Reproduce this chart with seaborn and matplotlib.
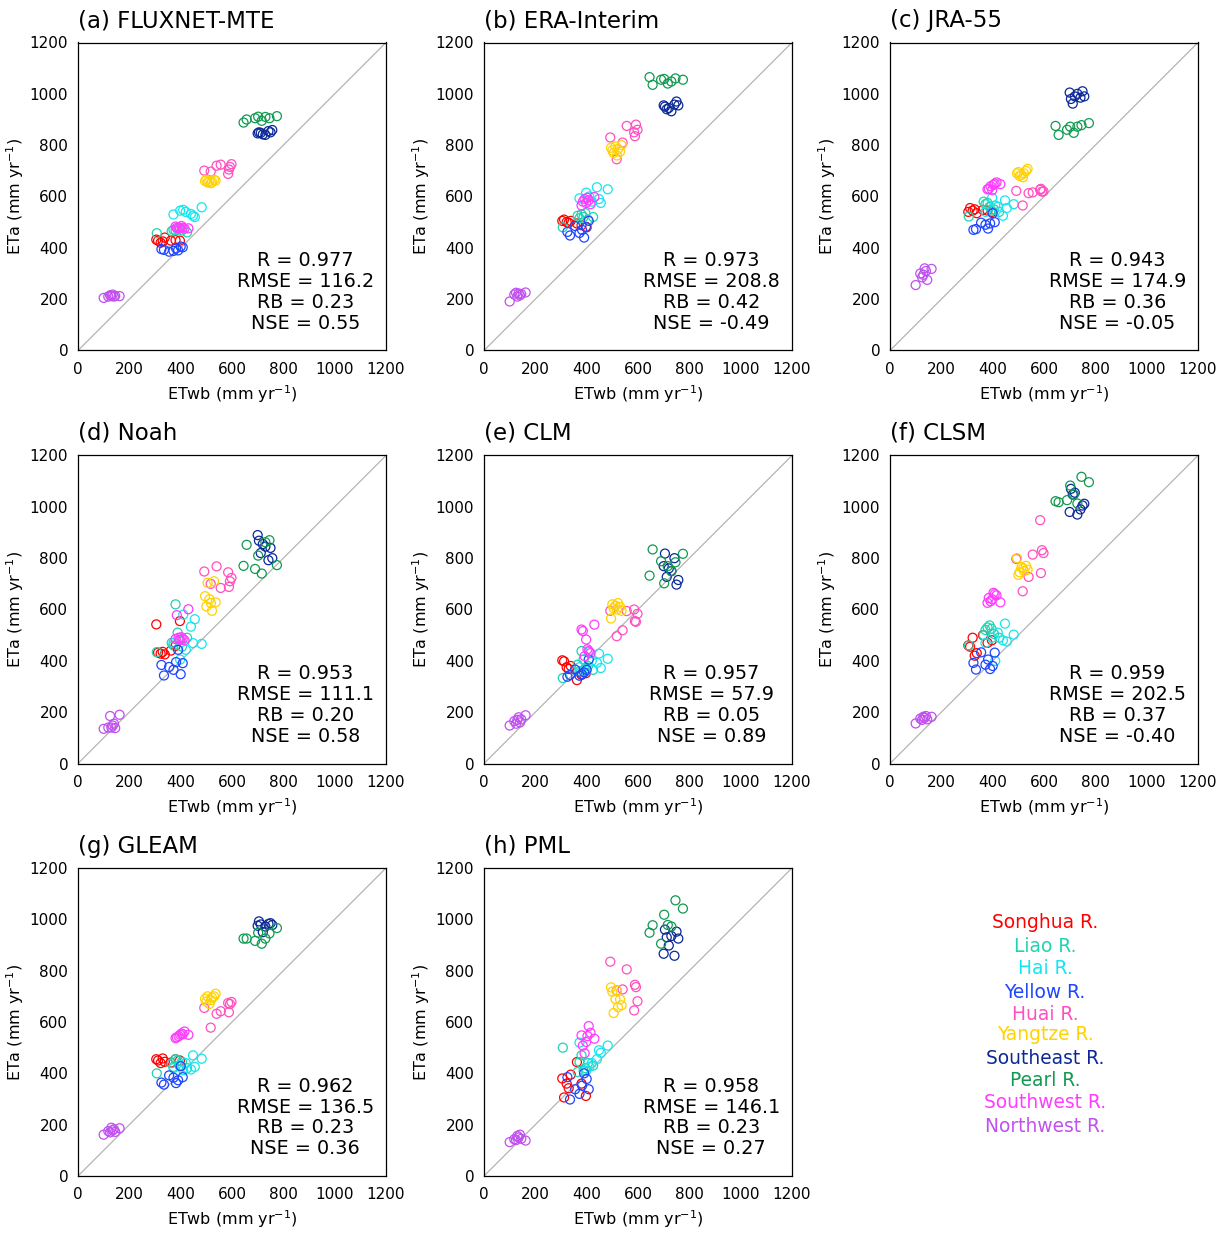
import matplotlib
matplotlib.use('Agg')
import numpy as np
import pandas as pd
import seaborn as sns
import matplotlib.pyplot as plt

# --------------------------------------------------------------------
# Data: ETwb is the same for every product, ETa differs per product

regions = ['Songhua R.', 'Liao R.', 'Hai R.', 'Yellow R.', 'Huai R.',
           'Yangtze R.', 'Southeast R.', 'Pearl R.', 'Southwest R.', 'Northwest R.']
colors = ['#ff0000', '#1ed4b0', '#14e6f0', '#1e46ff', '#ff50c0',
          '#ffd200', '#0a2896', '#109a50', '#ff3cff', '#c050f0']

etwb = {
    'Songhua R.':   [305, 312, 322, 330, 338, 362, 380, 397],
    'Liao R.':      [307, 365, 372, 380, 388, 395, 405, 425],
    'Hai R.':       [372, 398, 410, 420, 440, 448, 455, 482],
    'Yellow R.':    [325, 335, 355, 372, 382, 390, 400, 408],
    'Huai R.':      [492, 517, 540, 556, 585, 588, 592, 598],
    'Yangtze R.':   [495, 500, 505, 512, 518, 522, 530, 536],
    'Southeast R.': [700, 705, 712, 720, 730, 742, 750, 757],
    'Pearl R.':     [645, 657, 690, 702, 716, 730, 746, 775],
    'Southwest R.': [380, 385, 392, 398, 403, 408, 415, 430],
    'Northwest R.': [100, 118, 125, 130, 135, 140, 145, 162],
}

eta_fluxnet = {
    'Songhua R.':   [432, 428, 420, 425, 440, 428, 430, 428],
    'Liao R.':      [457, 465, 470, 468, 472, 475, 468, 460],
    'Hai R.':       [530, 545, 548, 540, 532, 525, 520, 558],
    'Yellow R.':    [395, 392, 385, 388, 398, 390, 405, 402],
    'Huai R.':      [701, 697, 720, 724, 688, 705, 715, 726],
    'Yangtze R.':   [660, 665, 655, 660, 652, 658, 665, 662],
    'Southeast R.': [846, 850, 848, 842, 840, 855, 850, 859],
    'Pearl R.':     [888, 900, 905, 911, 895, 910, 905, 913],
    'Southwest R.': [483, 478, 480, 476, 485, 478, 475, 476],
    'Northwest R.': [205, 210, 215, 212, 218, 210, 213, 212],
}

eta_era = {
    'Songhua R.':   [505, 510, 500, 498, 505, 495, 488, 482],
    'Liao R.':      [480, 525, 515, 530, 520, 535, 510, 520],
    'Hai R.':       [593, 615, 600, 580, 636, 590, 575, 628],
    'Yellow R.':    [462, 448, 485, 458, 470, 440, 480, 505],
    'Huai R.':      [830, 745, 810, 875, 850, 835, 880, 860],
    'Yangtze R.':   [790, 780, 770, 795, 760, 785, 775, 800],
    'Southeast R.': [955, 950, 940, 945, 932, 958, 970, 955],
    'Pearl R.':     [1065, 1035, 1055, 1058, 1040, 1048, 1060, 1055],
    'Southwest R.': [565, 580, 590, 575, 595, 585, 570, 598],
    'Northwest R.': [191, 218, 225, 210, 222, 215, 220, 226],
}

eta_jra = {
    'Songhua R.':   [540, 555, 545, 550, 535, 548, 545, 540],
    'Liao R.':      [522, 580, 570, 575, 560, 545, 550, 540],
    'Hai R.':       [540, 595, 565, 560, 525, 585, 555, 570],
    'Yellow R.':    [470, 473, 498, 490, 475, 495, 535, 500],
    'Huai R.':      [622, 565, 613, 616, 626, 630, 619, 620],
    'Yangtze R.':   [690, 695, 680, 685, 675, 690, 700, 708],
    'Southeast R.': [1005, 980, 962, 990, 1000, 985, 1010, 990],
    'Pearl R.':     [875, 840, 860, 872, 848, 872, 878, 886],
    'Southwest R.': [628, 630, 640, 625, 645, 650, 655, 648],
    'Northwest R.': [255, 300, 285, 295, 320, 310, 275, 318],
}

eta_noah = {
    'Songhua R.':   [542, 432, 428, 435, 425, 440, 458, 555],
    'Liao R.':      [434, 470, 460, 620, 510, 480, 455, 490],
    'Hai R.':       [470, 405, 580, 443, 533, 469, 562, 466],
    'Yellow R.':    [384, 343, 376, 365, 395, 443, 348, 391],
    'Huai R.':      [748, 700, 768, 684, 745, 688, 710, 723],
    'Yangtze R.':   [652, 612, 704, 640, 625, 595, 710, 628],
    'Southeast R.': [890, 868, 820, 855, 845, 792, 840, 800],
    'Pearl R.':     [770, 852, 758, 810, 740, 862, 870, 773],
    'Southwest R.': [485, 578, 490, 482, 492, 486, 480, 601],
    'Northwest R.': [135, 140, 185, 140, 148, 155, 138, 190],
}

eta_clm = {
    'Songhua R.':   [402, 398, 375, 368, 380, 325, 345, 352],
    'Liao R.':      [333, 385, 360, 438, 405, 370, 380, 365],
    'Hai R.':       [375, 360, 435, 400, 392, 428, 372, 408],
    'Yellow R.':    [338, 345, 366, 342, 348, 355, 365, 405],
    'Huai R.':      [595, 496, 519, 594, 600, 555, 552, 583],
    'Yangtze R.':   [565, 620, 605, 615, 600, 625, 610, 595],
    'Southeast R.': [769, 818, 727, 760, 750, 800, 697, 715],
    'Pearl R.':     [732, 834, 788, 702, 769, 749, 784, 817],
    'Southwest R.': [522, 516, 418, 483, 445, 438, 430, 541],
    'Northwest R.': [148, 165, 155, 170, 180, 160, 172, 188],
}

eta_clsm = {
    'Songhua R.':   [460, 455, 490, 420, 430, 500, 470, 480],
    'Liao R.':      [460, 500, 520, 530, 538, 525, 505, 490],
    'Hai R.':       [470, 490, 400, 510, 480, 545, 475, 502],
    'Yellow R.':    [392, 366, 433, 385, 405, 368, 380, 432],
    'Huai R.':      [797, 671, 727, 814, 948, 742, 831, 820],
    'Yangtze R.':   [800, 735, 745, 765, 760, 750, 770, 755],
    'Southeast R.': [980, 1070, 1048, 1055, 970, 990, 1005, 1012],
    'Pearl R.':     [1022, 1018, 1026, 1083, 1048, 1013, 1117, 1096],
    'Southwest R.': [626, 645, 632, 640, 665, 660, 655, 628],
    'Northwest R.': [156, 175, 170, 182, 178, 185, 172, 182],
}

eta_gleam = {
    'Songhua R.':   [455, 450, 440, 458, 445, 442, 455, 450],
    'Liao R.':      [400, 440, 425, 455, 450, 430, 445, 420],
    'Hai R.':       [420, 432, 412, 440, 415, 470, 425, 457],
    'Yellow R.':    [364, 356, 392, 383, 362, 373, 428, 385],
    'Huai R.':      [655, 578, 632, 642, 674, 638, 670, 678],
    'Yangtze R.':   [690, 680, 700, 670, 685, 695, 700, 710],
    'Southeast R.': [975, 992, 980, 950, 972, 982, 985, 978],
    'Pearl R.':     [925, 925, 916, 948, 905, 925, 945, 966],
    'Southwest R.': [537, 540, 545, 550, 555, 552, 563, 550],
    'Northwest R.': [161, 175, 170, 188, 178, 182, 172, 186],
}

eta_pml = {
    'Songhua R.':   [380, 306, 360, 342, 395, 444, 360, 312],
    'Liao R.':      [500, 405, 444, 470, 410, 420, 440, 430],
    'Hai R.':       [520, 410, 425, 440, 455, 490, 480, 508],
    'Yellow R.':    [385, 298, 338, 320, 352, 400, 378, 338],
    'Huai R.':      [835, 723, 727, 805, 645, 745, 736, 681],
    'Yangtze R.':   [735, 718, 635, 690, 722, 658, 688, 665],
    'Southeast R.': [866, 960, 930, 898, 935, 858, 952, 925],
    'Pearl R.':     [948, 977, 905, 1018, 978, 972, 1074, 1042],
    'Southwest R.': [548, 508, 478, 522, 545, 584, 558, 535],
    'Northwest R.': [132, 143, 140, 156, 150, 161, 145, 138],
}

titles = ['(a) FLUXNET-MTE', '(b) ERA-Interim', '(c) JRA-55', '(d) Noah',
          '(e) CLM', '(f) CLSM', '(g) GLEAM', '(h) PML']
eta_all = [eta_fluxnet, eta_era, eta_jra, eta_noah,
           eta_clm, eta_clsm, eta_gleam, eta_pml]

stat_R = ['0.977', '0.973', '0.943', '0.953', '0.957', '0.959', '0.962', '0.958']
stat_RMSE = ['116.2', '208.8', '174.9', '111.1', '57.9', '202.5', '136.5', '146.1']
stat_RB = ['0.23', '0.42', '0.36', '0.20', '0.05', '0.37', '0.23', '0.23']
stat_NSE = ['0.55', '-0.49', '-0.05', '0.58', '0.89', '-0.40', '0.36', '0.27']

ticks = [0, 200, 400, 600, 800, 1000, 1200]

# --------------------------------------------------------------------
# Figure

sns.set_style('white', {'axes.edgecolor': 'black', 'text.color': 'black',
                        'axes.labelcolor': 'black', 'xtick.color': 'black',
                        'ytick.color': 'black'})
plt.rcParams['font.family'] = ['DejaVu Sans']

W, H = 1225, 1234
fig = plt.figure(figsize=(W / 100, H / 100), dpi=100)
palette = dict(zip(regions, colors))

col_left = [78, 484, 890]
row_top = [42.5, 455.5, 868]
size = 308

for i, (title, eta) in enumerate(zip(titles, eta_all)):
    r, c = divmod(i, 3)
    ax = fig.add_axes([col_left[c] / W, 1 - (row_top[r] + size) / H, size / W, size / H])

    df = pd.DataFrame({
        'region': np.repeat(regions, [len(etwb[k]) for k in regions]),
        'ETwb': np.concatenate([etwb[k] for k in regions]),
        'ETa': np.concatenate([eta[k] for k in regions]),
    })

    ax.plot([0, 1200], [0, 1200], color='#b4b4b4', lw=0.9, zorder=1)
    sns.scatterplot(data=df, x='ETwb', y='ETa', hue='region', palette=palette,
                    s=42, linewidth=0.9, legend=False, ax=ax, zorder=2)
    # hollow circles
    pts = ax.collections[-1]
    pts.set_edgecolors(pts.get_facecolors())
    pts.set_facecolors('none')

    ax.set_xlim(0, 1200)
    ax.set_ylim(0, 1200)
    ax.set_xticks(ticks)
    ax.set_yticks(ticks)
    ax.tick_params(length=0, labelsize=11, colors='black')
    ax.tick_params(axis='x', pad=8)
    ax.tick_params(axis='y', pad=7)
    for sp in ax.spines.values():
        sp.set_linewidth(0.9)
        sp.set_color('black')

    ax.set_xlabel('ETwb (mm yr$^{-1}$)', fontsize=11.5, color='black')
    ax.set_ylabel('ETa (mm yr$^{-1}$)', fontsize=11.5, color='black')
    ax.xaxis.set_label_coords(0.5, -0.105)
    ax.yaxis.set_label_coords(-0.17, 0.5)

    ax.text(0.0, 1 + 15.5 / size, title, transform=ax.transAxes,
            ha='left', va='baseline', fontsize=16.5, color='black')

    lines = ['R = ' + stat_R[i], 'RMSE = ' + stat_RMSE[i],
             'RB = ' + stat_RB[i], 'NSE = ' + stat_NSE[i]]
    for txt, yy in zip(lines, [0.292, 0.224, 0.156, 0.089]):
        ax.text(0.738, yy, txt, transform=ax.transAxes, ha='center', va='center',
                fontsize=13.8, color='black')

# legend as coloured text
legend_y = [923, 946, 969, 992, 1014, 1035, 1058, 1081, 1103, 1126]
for name, col, yy in zip(regions, colors, legend_y):
    fig.text(1045 / W, 1 - yy / H, name, color=col, ha='center', va='center',
             fontsize=13.4)

plt.savefig('out.png', dpi=100)
